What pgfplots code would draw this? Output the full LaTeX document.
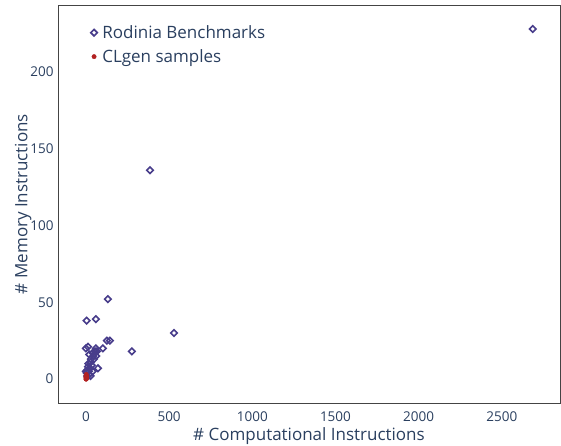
\documentclass[border=0pt]{standalone}
\usepackage{fontspec}
\setmainfont{Open Sans}
\usepackage{pgfplots}
\pgfplotsset{compat=1.18}

\definecolor{plotlytext}{RGB}{42,63,95}
\definecolor{rodinia}{RGB}{72,61,139}
\definecolor{clgen}{RGB}{178,34,34}
\definecolor{axisline}{RGB}{68,68,68}

\begin{document}
\begin{tikzpicture}
\begin{axis}[
    name=ax,
    scale only axis,
    width=502pt, height=398pt,
    xmin=-168, xmax=2850,
    ymin=-15.6, ymax=243.6,
    xtick={0,500,1000,1500,2000,2500},
    ytick={0,50,100,150,200},
    major tick length=0pt,
    axis line style={axisline, line width=0.9pt},
    ticklabel style={font=\fontsize{13.5}{15}\selectfont, text=plotlytext},
    /pgf/number format/assume math mode=true,
    /pgf/number format/1000 sep={},
    xticklabel style={yshift=-5pt},
    yticklabel style={xshift=-1pt},
    xlabel={\# Computational Instructions},
    ylabel={\# Memory Instructions},
    label style={font=\fontsize{17}{20}\selectfont, text=plotlytext},
    xlabel style={yshift=1pt},
    ylabel style={yshift=-8pt},
    legend style={draw=none, fill=none, at={(0.065,0.954)}, anchor=north west,
        font=\fontsize{17}{20}\selectfont, text=plotlytext,
        row sep=5.5pt, inner sep=0pt, nodes={inner xsep=5pt}},
    legend cell align=left,
    clip=false,
]
\addplot[only marks, mark=square, mark size=2.3pt,
    mark options={rotate=45, draw=rodinia, line width=1.6pt, fill=none}]
coordinates {
(2686,228) (385,136) (132,52) (529,30) (60,39) (4,38)
(276,18) (144,25) (126,25) (102,20) (72,7)
(0,20) (12,21) (60,20) (66,18) (20,16) (40,17) (55,18) (62,15)
(30,13) (48,13) (15,10) (35,9) (25,7) (10,6) (5,4) (20,3)
(40,5) (8,2) (30,11) (44,15) (18,5) (28,2) (0,5) (12,8)
};
\addlegendentry{Rodinia Benchmarks}
\addplot[only marks, mark=*, mark size=2.2pt, color=clgen]
coordinates {
(0,0) (1,1) (2,0) (3,1) (2,2) (4,1) (1,0) (0,1) (3,2) (5,1) (0,2) (2,3)
};
\addlegendentry{CLgen samples}
\end{axis}
\pgfresetboundingbox
\path[use as bounding box] ([xshift=-58pt,yshift=-43pt]ax.south west) rectangle ([xshift=1pt,yshift=5pt]ax.north east);
\end{tikzpicture}
\end{document}
